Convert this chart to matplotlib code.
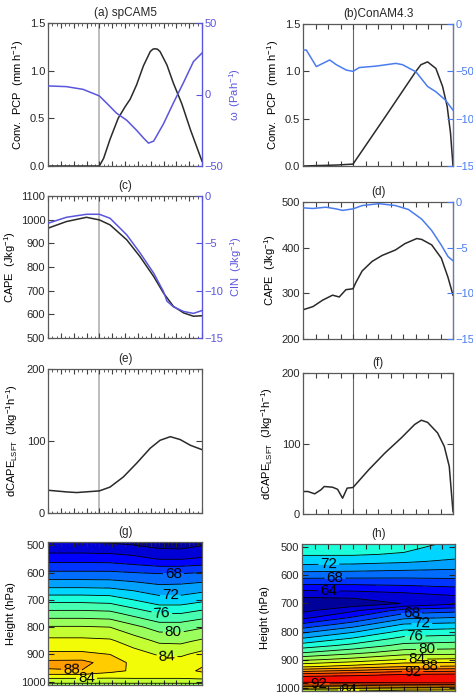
import numpy as np
import matplotlib.pyplot as plt
from matplotlib.ticker import MultipleLocator
from matplotlib.colors import Normalize

plt.rcParams['font.family'] = ['Liberation Sans', 'DejaVu Sans']
plt.rcParams['mathtext.fontset'] = 'custom'
plt.rcParams['mathtext.rm'] = 'Liberation Sans'
plt.rcParams['mathtext.it'] = 'Liberation Sans'
plt.rcParams['font.size'] = 8

# ---- data (hours relative to onset) ----
a_pcp_hr = [-12, -6, 0, 1, 2.5, 4.4, 6, 7.2, 8.7, 10.3, 11.9, 12.5, 13, 13.6, 14.2, 15.8, 17.3, 19.3, 21.3, 24]
a_pcp = [0, 0, 0, 0.08, 0.28, 0.5, 0.62, 0.7, 0.85, 1.05, 1.2, 1.225, 1.23, 1.225, 1.2, 1.06, 0.87, 0.65, 0.38, 0.05]
a_omega_hr = [-12, -7.7, -3.8, 0, 1.7, 4.0, 6.4, 8.7, 10.5, 11.5, 12.7, 15.0, 17.3, 19.7, 22.0, 24]
a_omega = [6, 5.5, 3.6, -1, -6, -13, -18, -25, -31, -34, -32.6, -20.5, -6, 8.5, 23, 29]

b_pcp_hr = [-12, -4, 0, 7.9, 15.1, 16.3, 17.9, 19.9, 21.5, 22.6, 23.4, 24]
b_pcp = [0, 0.01, 0.02, 0.53, 1.0, 1.07, 1.1, 1.03, 0.84, 0.63, 0.35, 0.0]
b_omega_hr = [-12, -11.2, -8.8, -5.6, -4.0, -1.6, 0, 1.5, 5.5, 10.3, 11.9, 15.1, 17.9, 19.9, 22.2, 24]
b_omega = [-27.5, -27.5, -45, -38, -43, -48.7, -50, -46, -44.5, -41.6, -43, -50.5, -66, -71.6, -80.5, -91]

c_hr = [-12, -7.7, -3.0, 0, 2.5, 6.4, 9.5, 12.7, 15.0, 17.3, 19.7, 22.0, 24]
c_cape = [964, 992, 1010, 999, 978, 915, 844, 760, 690, 634, 606, 592, 594]
c_cin_hr = [-12, -7.7, -3.0, 0, 2.5, 6.4, 9.5, 12.7, 15.0, 15.8, 17.3, 19.7, 22.0, 24]
c_cin = [-2.88, -2.25, -1.93, -1.93, -2.35, -4.1, -6.0, -8.15, -10.1, -11.1, -11.7, -12.2, -12.4, -12.1]

d_cape_hr = [-12, -9.6, -7.3, -4.9, -3.3, -1.7, 0, 0.7, 2.2, 4.6, 7.0, 10.2, 12.5, 15.3, 16.5, 18.9, 21.2, 22.8, 24]
d_cape = [264, 271, 285, 296, 292, 308, 310, 324, 349, 370, 383, 395, 409, 420, 418, 406, 377, 335, 296]
d_cin_hr = [-12, -9.6, -6.5, -4.1, -2.5, 0, 2.2, 6.2, 10.2, 13.3, 16.5, 18.9, 21.2, 22.8, 24]
d_cin = [-0.64, -0.71, -0.57, -0.75, -0.92, -0.75, -0.39, -0.18, -0.39, -0.82, -1.88, -3.13, -4.73, -5.97, -6.43]

e_hr = [-12, -7.7, -5.3, 0, 2.5, 5.6, 8.7, 11.9, 14.2, 16.6, 18.9, 21.3, 24]
e_dcape = [31.6, 29.3, 28.4, 30.7, 36, 50, 69, 90, 101, 106, 102, 94, 88]

f_hr = [-12, -10.8, -9.2, -7.7, -6.9, -4.9, -3.7, -2.5, -1.4, 0, 3.8, 7.7, 11.6, 14.8, 16.4, 17.9, 20.3, 21.9, 23.1, 24]
f_dcape = [31.9, 31.9, 28.6, 34.3, 39, 38, 35, 22.4, 36.7, 37.6, 62.9, 86.7, 108, 127, 133, 130, 115, 96, 67.6, 3.3]

# humidity-like field (g), one profile per time column
g_hr = [-12, -4, 2.5, 8, 14, 19, 24]
g_p = [490, 525, 550, 600, 650, 700, 750, 800, 850, 900, 930, 960, 985, 1010]
g_cols = [
    [62.0, 63.8, 65.2, 68.3, 71.6, 75.3, 78.8, 82.2, 84.5, 86.4, 88.6, 87.8, 84.3, 81.5],
    [62.0, 63.8, 65.2, 68.3, 71.6, 75.3, 78.8, 82.2, 84.5, 86.4, 88.7, 87.9, 84.3, 81.5],
    [61.9, 63.7, 65.1, 68.3, 71.5, 75.1, 78.6, 82.0, 84.3, 86.0, 86.9, 86.6, 84.2, 81.5],
    [61.5, 63.4, 64.6, 68.0, 71.0, 74.0, 77.3, 80.6, 83.0, 84.9, 85.6, 85.7, 84.3, 81.5],
    [61.0, 62.6, 63.9, 67.8, 70.3, 72.8, 76.0, 79.1, 81.6, 83.8, 84.9, 85.3, 84.3, 81.5],
    [61.0, 62.5, 63.9, 67.8, 70.4, 72.8, 76.0, 79.1, 81.5, 83.7, 84.8, 85.3, 84.3, 81.5],
    [61.5, 63.0, 64.3, 68.0, 70.8, 73.5, 76.8, 79.8, 82.3, 84.6, 85.6, 86.3, 84.6, 81.5],
]

h_hr = [-12, 0, 12, 24]
h_p = [490, 525, 550, 575, 600, 625, 650, 675, 700, 725, 750, 775, 800, 825, 850, 875, 900, 925, 950, 965, 980, 995, 1010, 1022]
h_cols = [
    [75.3, 74.2, 72.8, 71.0, 68.9, 66.7, 64.3, 62.2, 60.6, 61.5, 63.4, 66.4, 69.4, 72.1, 74.9, 77.9, 81.5, 85.7, 91.9, 95.0, 94.3, 88.3, 83.0, 81.0],
    [75.2, 74.2, 72.7, 70.8, 68.8, 66.7, 64.5, 62.4, 60.8, 63.6, 66.2, 69.0, 71.7, 74.2, 76.6, 79.4, 82.7, 86.8, 92.7, 95.3, 94.6, 88.9, 83.6, 81.6],
    [74.8, 73.8, 72.3, 70.5, 68.7, 66.8, 64.9, 63.0, 62.1, 66.8, 69.5, 72.2, 74.5, 76.6, 78.6, 81.0, 84.1, 88.0, 93.6, 95.7, 95.0, 89.5, 84.2, 82.2],
    [73.5, 72.8, 71.6, 70.2, 68.7, 67.1, 65.4, 63.8, 63.6, 67.4, 70.0, 72.6, 74.9, 77.0, 78.9, 81.2, 84.4, 88.3, 93.8, 95.9, 95.2, 89.8, 84.4, 82.5],
]

# ---- styling ----
BLACK = '#2a2a2a'
BLUE_L = '#5a55dd'
BLUE_R = '#4a7cf0'
W, H = 473.0, 693.0


def box(x0, x1, y0, y1):
    return [x0 / W, 1 - y1 / H, (x1 - x0) / W, (y1 - y0) / H]


fig = plt.figure(figsize=(4.73, 6.93), dpi=100)

pos = {
    'a': box(48, 202, 23, 166), 'b': box(303, 453, 24, 166),
    'c': box(48, 202, 196, 338), 'd': box(303, 453, 202, 339),
    'e': box(48, 202, 369, 513), 'f': box(303, 453, 373, 514),
    'g': box(48, 202, 542, 685), 'h': box(302, 455, 544, 691),
}


def base(key, title, left_col):
    ax = fig.add_axes(pos[key])
    ax.set_xlim(-12, 24)
    ax.xaxis.set_major_locator(MultipleLocator(3))
    if left_col:
        ax.xaxis.set_minor_locator(MultipleLocator(1))
    ax.tick_params(axis='both', which='both', direction='in', top=True, right=True,
                   colors='0.25', labelcolor='0.15', pad=2)
    ax.tick_params(axis='x', which='major', length=3.5, labelbottom=False)
    ax.tick_params(axis='x', which='minor', length=1.8)
    ax.tick_params(axis='y', which='major', length=4)
    for s in ax.spines.values():
        s.set_color('0.35')
        s.set_linewidth(0.9)
    ax.set_title(title, fontsize=8.5, pad=5, color='0.15')
    return ax


def vline(ax, left_col):
    if left_col:
        ax.axvline(0, color='#b8b8b8', lw=1.3, zorder=1)
    else:
        ax.axvline(0, color='#666666', lw=0.8, zorder=1)


def twin(ax, color, lim, ticks, label):
    tw = ax.twinx()
    tw.set_ylim(*lim)
    tw.set_yticks(ticks)
    tw.tick_params(axis='y', direction='in', length=4, colors=color, labelcolor=color, pad=2)
    tw.spines['right'].set_color(color)
    for k in ['left', 'top', 'bottom']:
        tw.spines[k].set_visible(False)
    tw.set_ylabel(label, color=color, labelpad=3)
    return tw


# (a)
ax = base('a', '(a) spCAM5', True)
vline(ax, True)
ax.plot(a_pcp_hr, a_pcp, color=BLACK, lw=1.1)
ax.set_ylim(0, 1.5)
ax.set_yticks([0, 0.5, 1.0, 1.5])
ax.set_yticklabels(['0.0', '0.5', '1.0', '1.5'])
ax.set_ylabel('Conv.  PCP  (mm h$^{-1}$)', labelpad=3)
tw = twin(ax, BLUE_L, (-50, 50), [-50, 0, 50], '\u03c9  (Pah$^{-1}$)')
tw.plot(a_omega_hr, a_omega, color=BLUE_L, lw=1.1)

# (b)
ax = base('b', '(b)ConAM4.3', False)
vline(ax, False)
ax.plot(b_pcp_hr, b_pcp, color=BLACK, lw=1.1)
ax.set_ylim(0, 1.5)
ax.set_yticks([0, 0.5, 1.0, 1.5])
ax.set_yticklabels(['0.0', '0.5', '1.0', '1.5'])
ax.set_ylabel('Conv.  PCP  (mm h$^{-1}$)', labelpad=3)
tw = twin(ax, BLUE_R, (-150, 0), [-150, -100, -50, 0], '\u03c9  (Pah$^{-1}$)')
tw.plot(b_omega_hr, b_omega, color=BLUE_R, lw=1.1)

# (c)
ax = base('c', '(c)', True)
vline(ax, True)
ax.plot(c_hr, c_cape, color=BLACK, lw=1.1)
ax.set_ylim(500, 1100)
ax.set_yticks(np.arange(500, 1101, 100))
ax.set_ylabel('CAPE  (Jkg$^{-1}$)', labelpad=2)
tw = twin(ax, BLUE_L, (-15, 0), [-15, -10, -5, 0], 'CIN  (Jkg$^{-1}$)')
tw.plot(c_cin_hr, c_cin, color=BLUE_L, lw=1.1)

# (d)
ax = base('d', '(d)', False)
vline(ax, False)
ax.plot(d_cape_hr, d_cape, color=BLACK, lw=1.1)
ax.set_ylim(200, 500)
ax.set_yticks([200, 300, 400, 500])
ax.set_ylabel('CAPE  (Jkg$^{-1}$)', labelpad=3)
tw = twin(ax, BLUE_R, (-15, 0), [-15, -10, -5, 0], 'CIN  (Jkg$^{-1}$)')
tw.plot(d_cin_hr, d_cin, color=BLUE_R, lw=1.1)

# (e)
ax = base('e', '(e)', True)
vline(ax, True)
ax.plot(e_hr, e_dcape, color=BLACK, lw=1.1)
ax.set_ylim(0, 200)
ax.set_yticks([0, 100, 200])
ax.set_ylabel('dCAPE$_{LSFT}$  (Jkg$^{-1}$h$^{-1}$)', labelpad=5)

# (f)
ax = base('f', '(f)', False)
vline(ax, False)
ax.plot(f_hr, f_dcape, color=BLACK, lw=1.1)
ax.set_ylim(0, 200)
ax.set_yticks([0, 100, 200])
ax.set_ylabel('dCAPE$_{LSFT}$  (Jkg$^{-1}$h$^{-1}$)', labelpad=5)

# (g), (h) contour panels
levels = np.arange(58, 100, 2)
lab_levels = levels[levels % 4 == 0]
plain_levels = levels[levels % 4 != 0]
norm = Normalize(60, 99)


def contour_panel(key, title, hr, p, cols, left_col, label_pts):
    ax = base(key, title, left_col)
    z = np.array(cols).T
    ax.contourf(hr, p, z, levels=levels, cmap='jet', norm=norm)
    ax.contour(hr, p, z, levels=plain_levels, colors='k', linewidths=0.6)
    cs = ax.contour(hr, p, z, levels=lab_levels, colors='k', linewidths=0.6)
    ax.clabel(cs, manual=label_pts, fontsize=11, fmt='%d', inline=True, inline_spacing=2)
    ax.set_ylim(1012, 488)
    ax.set_yticks([500, 600, 700, 800, 900, 1000])
    ax.set_ylabel('Height (hPa)', labelpad=3)
    ax.tick_params(axis='both', which='both', colors='0.15')
    return ax


contour_panel('g', '(g)', g_hr, g_p, g_cols, True,
              [(17.3, 592), (16.6, 686), (14.6, 752), (17.3, 815), (15.8, 905),
               (-6.5, 950), (-3, 990)])
contour_panel('h', '(h)', h_hr, h_p, h_cols, False,
              [(-5.7, 562), (-4.2, 611), (-5.7, 653), (13.8, 732), (16.2, 769),
               (14.6, 811), (17.3, 866), (15, 898), (18, 925), (14, 942),
               (-8, 984), (-1, 1007)])

fig.savefig('out.png', dpi=100)
